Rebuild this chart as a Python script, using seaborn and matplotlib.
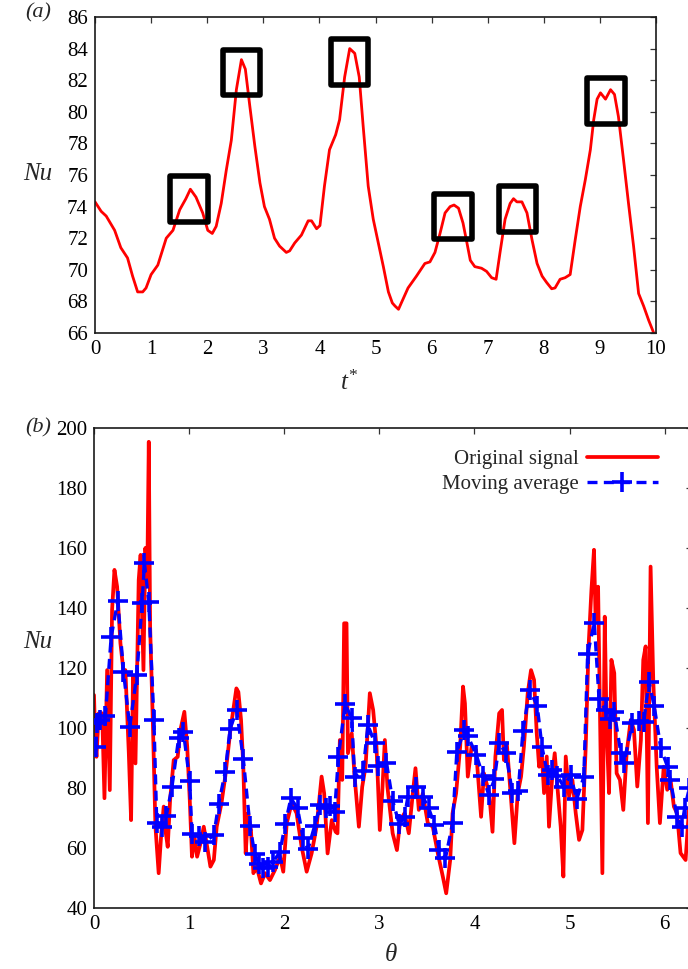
import numpy as np
import pandas as pd
import matplotlib
matplotlib.use("Agg")
import matplotlib.pyplot as plt
import seaborn as sns
from matplotlib.patches import Rectangle
from matplotlib.lines import Line2D

# ---------------- data: panel (a) ----------------
t_star = [0.00, 0.11, 0.20, 0.35, 0.46, 0.58, 0.67, 0.76, 0.85, 0.91, 1.00, 1.12, 1.27, 1.39,
          1.51, 1.62, 1.70, 1.80, 1.92, 2.01, 2.09, 2.16, 2.25, 2.34, 2.43, 2.52, 2.61, 2.68,
          2.76, 2.85, 2.94, 3.02, 3.11, 3.20, 3.29, 3.41, 3.47, 3.56, 3.68, 3.80, 3.86, 3.95,
          4.01, 4.09, 4.18, 4.29, 4.36, 4.45, 4.54, 4.63, 4.71, 4.78, 4.87, 4.96, 5.05, 5.14,
          5.23, 5.30, 5.35, 5.41, 5.46, 5.58, 5.73, 5.88, 5.97, 6.06, 6.15, 6.24, 6.33, 6.40,
          6.48, 6.56, 6.63, 6.69, 6.77, 6.89, 6.98, 7.07, 7.15, 7.22, 7.31, 7.40, 7.46, 7.52,
          7.61, 7.70, 7.79, 7.88, 7.97, 8.05, 8.14, 8.20, 8.29, 8.38, 8.47, 8.56, 8.65, 8.74,
          8.83, 8.89, 8.95, 9.01, 9.10, 9.19, 9.26, 9.33, 9.42, 9.51, 9.60, 9.69, 9.78, 9.87,
          9.96, 10.0]
nu_a = [74.3, 73.7, 73.4, 72.5, 71.4, 70.75, 69.6, 68.6, 68.6, 68.85, 69.7, 70.3, 72.0, 72.5,
        73.8, 74.5, 75.1, 74.6, 73.6, 72.5, 72.3, 72.75, 74.2, 76.3, 78.2, 81.4, 83.3, 82.7,
        80.35, 77.8, 75.5, 74.0, 73.2, 72.0, 71.5, 71.1, 71.2, 71.7, 72.2, 73.1, 73.1, 72.6,
        72.8, 75.3, 77.6, 78.55, 79.5, 82.2, 84.0, 83.7, 82.2, 79.1, 75.3, 73.2, 71.7, 70.2,
        68.6, 67.9, 67.7, 67.5, 67.9, 68.85, 69.6, 70.4, 70.5, 71.1, 72.3, 73.6, 74.0, 74.1,
        73.9, 72.96, 71.7, 70.6, 70.2, 70.1, 69.9, 69.5, 69.4, 71.1, 73.2, 74.2, 74.5, 74.3,
        74.3, 73.6, 71.9, 70.4, 69.6, 69.2, 68.8, 68.85, 69.4, 69.5, 69.7, 71.9, 74.0, 75.7,
        77.6, 79.5, 80.8, 81.2, 80.8, 81.4, 81.1, 79.7, 77.0, 74.2, 71.5, 68.5, 67.7, 66.8,
        66.0, 65.8]

# highlighted peaks (box centres)
box_t = [1.675, 2.615, 4.54, 6.38, 7.53, 9.105]
box_nu = [74.47, 82.49, 83.15, 73.38, 73.85, 80.67]

# ---------------- data: panel (b) ----------------
theta_sig = [0.000, 0.013, 0.026, 0.050, 0.086, 0.110, 0.138, 0.166, 0.190, 0.215, 0.243, 0.278,
             0.310, 0.330, 0.366, 0.390, 0.410, 0.436, 0.470, 0.490, 0.520, 0.540, 0.560, 0.576,
             0.590, 0.620, 0.646, 0.680, 0.705, 0.733, 0.755, 0.775, 0.800, 0.838, 0.880, 0.908,
             0.950, 0.980, 1.007, 1.030, 1.056, 1.084, 1.120, 1.154, 1.190, 1.224, 1.260, 1.290,
             1.340, 1.380, 1.434, 1.497, 1.518, 1.546, 1.570, 1.595, 1.620, 1.650, 1.676, 1.710,
             1.756, 1.798, 1.850, 1.903, 1.956, 1.990, 2.026, 2.078, 2.130, 2.183, 2.236, 2.288,
             2.340, 2.393, 2.420, 2.456, 2.500, 2.540, 2.560, 2.585, 2.610, 2.630, 2.655, 2.670,
             2.710, 2.740, 2.785, 2.820, 2.855, 2.900, 2.935, 2.970, 3.005, 3.030, 3.058, 3.085,
             3.140, 3.185, 3.220, 3.265, 3.310, 3.352, 3.380, 3.415, 3.457, 3.510, 3.562, 3.615,
             3.668, 3.703, 3.745, 3.770, 3.807, 3.850, 3.880, 3.900, 3.930, 3.970, 4.017, 4.070,
             4.100, 4.155, 4.190, 4.220, 4.260, 4.290, 4.310, 4.340, 4.375, 4.420, 4.455, 4.490,
             4.520, 4.560, 4.595, 4.627, 4.655, 4.680, 4.704, 4.732, 4.760, 4.784, 4.820, 4.844,
             4.872, 4.907, 4.935, 4.960, 4.995, 5.030, 5.065, 5.100, 5.135, 5.170, 5.200, 5.230,
             5.257, 5.274, 5.300, 5.320, 5.345, 5.370, 5.390, 5.415, 5.440, 5.470, 5.495, 5.530,
             5.565, 5.600, 5.643, 5.677, 5.712, 5.750, 5.775, 5.800, 5.824, 5.852, 5.880, 5.916,
             5.950, 5.990, 6.027, 6.062, 6.097, 6.130, 6.167, 6.220, 6.260, 6.300]
nu_sig = [111.0, 96.0, 90.4, 104.9, 104.9, 76.6, 119.3, 79.3, 139.3, 152.7, 147.1, 128.2,
          119.0, 119.3, 91.6, 69.3, 117.1, 88.2, 149.3, 157.7, 119.3, 160.0, 150.0, 195.4,
          133.8, 100.4, 67.1, 51.6, 63.8, 73.8, 65.0, 60.4, 76.0, 89.3, 90.4, 99.3,
          105.4, 93.8, 76.0, 57.1, 63.8, 57.1, 61.6, 67.1, 60.4, 53.8, 56.0, 67.1,
          74.9, 83.8, 99.3, 113.2, 112.0, 102.7, 87.1, 58.2, 71.6, 66.0, 51.6, 53.8,
          48.2, 51.6, 49.3, 52.7, 57.1, 52.1, 68.2, 74.9, 71.6, 60.4, 52.1, 58.2,
          67.1, 83.8, 78.2, 58.2, 69.3, 65.4, 64.9, 96.0, 82.7, 134.9, 134.9, 91.6,
          98.2, 83.8, 67.1, 80.4, 87.1, 111.6, 106.0, 93.8, 66.0, 78.2, 96.0, 80.4,
          64.9, 59.3, 69.3, 71.6, 64.9, 78.2, 86.6, 72.7, 78.2, 68.2, 67.1, 58.2,
          50.4, 44.9, 56.0, 71.6, 78.2, 93.8, 113.8, 108.2, 83.8, 93.8, 92.7, 70.4,
          84.9, 78.2, 65.4, 90.4, 104.9, 106.0, 89.3, 94.9, 80.4, 61.6, 78.2, 83.8,
          93.8, 111.6, 119.3, 116.0, 98.2, 87.1, 93.8, 78.3, 90.5, 67.1, 84.9, 91.6,
          80.5, 67.1, 50.5, 90.5, 77.2, 82.7, 71.6, 62.7, 66.0, 93.8, 127.2, 146.0,
          159.4, 136.0, 147.1, 104.9, 51.6, 137.1, 99.4, 78.3, 122.7, 118.3, 84.9, 82.7,
          72.7, 91.6, 102.7, 99.4, 80.5, 96.0, 122.7, 127.2, 68.3, 153.8, 116.0, 87.1,
          68.3, 87.1, 79.4, 82.7, 73.8, 71.6, 58.3, 56.0, 75.0, 85.0]

theta_avg = [0.016, 0.033, 0.068, 0.120, 0.180, 0.250, 0.310, 0.376, 0.450, 0.506, 0.530, 0.576,
             0.630, 0.660, 0.710, 0.760, 0.820, 0.890, 0.940, 1.006, 1.030, 1.100, 1.170, 1.260,
             1.310, 1.380, 1.430, 1.500, 1.570, 1.640, 1.690, 1.735, 1.780, 1.830, 1.885, 1.955,
             2.010, 2.070, 2.140, 2.200, 2.250, 2.320, 2.380, 2.435, 2.480, 2.530, 2.570, 2.640,
             2.710, 2.740, 2.830, 2.880, 2.950, 2.990, 3.075, 3.140, 3.210, 3.265, 3.300, 3.390,
             3.460, 3.520, 3.580, 3.630, 3.695, 3.770, 3.815, 3.895, 3.930, 4.020, 4.090, 4.150,
             4.210, 4.260, 4.330, 4.400, 4.460, 4.510, 4.580, 4.660, 4.710, 4.770, 4.820, 4.870,
             4.940, 5.010, 5.075, 5.150, 5.190, 5.260, 5.310, 5.380, 5.420, 5.470, 5.540, 5.570,
             5.660, 5.730, 5.780, 5.835, 5.890, 5.960, 6.030, 6.060, 6.130, 6.180, 6.210, 6.260]
nu_avg = [93.8, 101.6, 102.7, 104.0, 130.2, 142.4, 118.8, 100.4, 117.7, 141.6, 155.0, 142.1,
          102.7, 68.2, 67.0, 70.7, 80.4, 96.6, 98.8, 82.4, 64.7, 64.0, 62.1, 64.3,
          74.6, 85.4, 99.6, 106.0, 89.6, 67.4, 58.0, 54.7, 53.2, 53.8, 55.4, 58.7,
          67.9, 76.6, 73.2, 63.2, 59.6, 67.4, 74.3, 73.2, 74.0, 72.1, 90.4, 108.0,
          103.2, 83.8, 85.8, 101.0, 95.1, 87.3, 88.5, 75.8, 67.9, 70.4, 77.1, 80.4,
          76.9, 73.2, 67.7, 59.3, 56.6, 68.2, 92.1, 99.3, 97.4, 91.0, 84.0, 77.7,
          82.9, 94.9, 91.8, 78.2, 79.1, 99.0, 112.7, 107.4, 93.8, 84.3, 86.0, 84.1,
          80.4, 84.3, 76.2, 83.8, 124.7, 135.1, 109.7, 106.0, 103.0, 105.2, 91.6, 88.2,
          101.6, 102.4, 102.1, 115.4, 107.3, 93.2, 87.1, 82.7, 70.4, 67.1, 73.3, 80.0]

a_xticks = list(range(0, 11))
a_yticks = list(range(66, 87, 2))
b_xticks = list(range(0, 7))
b_yticks = list(range(40, 201, 20))

# ---------------- style ----------------
sns.set_theme(style="white")
plt.rcParams["font.family"] = ["Liberation Serif", "DejaVu Serif"]
plt.rcParams["mathtext.fontset"] = "custom"
plt.rcParams["mathtext.rm"] = "Liberation Serif"
plt.rcParams["mathtext.it"] = "Liberation Serif:italic"
plt.rcParams["font.size"] = 15

FS = 15
RED = "#ff0000"
BLUE = "#0000ff"
DASH = (0, (3.0, 1.9))
MS, MEW = 14, 2.6

fig = plt.figure(figsize=(6.88, 9.69), dpi=100)
W, H = 688.0, 969.0
ax1 = fig.add_axes([95 / W, (H - 333) / H, 561 / W, 316 / H])
ax2 = fig.add_axes([94 / W, (H - 908) / H, 597.6 / W, 480 / H])

for ax in (ax1, ax2):
    for s in ax.spines.values():
        s.set_linewidth(1.2)
        s.set_color("#1a1a1a")
    ax.tick_params(direction="in", top=True, right=True, length=4.5, width=0.9,
                   labelsize=FS, colors="#333333", labelcolor="black", pad=5)

# ---------------- panel (a) ----------------
dfa = pd.DataFrame({"t": t_star, "Nu": nu_a})
sns.lineplot(data=dfa, x="t", y="Nu", ax=ax1, color=RED, linewidth=2.0,
             sort=False, estimator=None)
bw, bh = 0.67, 2.88
for bt, bn in zip(box_t, box_nu):
    ax1.add_patch(Rectangle((bt - bw / 2, bn - bh / 2), bw, bh, fill=False,
                            edgecolor="black", linewidth=4.0, joinstyle="round", zorder=5))
ax1.set_xlim(0, 10)
ax1.set_ylim(66, 86)
ax1.set_xticks(a_xticks)
ax1.set_yticks(a_yticks)
ax1.set_xlabel(r"$t^{*}$", fontsize=FS + 3, va="center")
ax1.xaxis.set_label_coords(254 / 561, -0.158)
ax1.set_ylabel("Nu", fontsize=FS + 3, fontstyle="italic", rotation=0, va="center", ha="center")
ax1.yaxis.set_label_coords(-0.1016, 0.503)

# ---------------- panel (b) ----------------
dfs = pd.DataFrame({"theta": theta_sig, "Nu": nu_sig})
dfm = pd.DataFrame({"theta": theta_avg, "Nu": nu_avg})
sns.lineplot(data=dfs, x="theta", y="Nu", ax=ax2, color=RED, linewidth=2.7,
             sort=False, estimator=None, zorder=2)
sns.lineplot(data=dfm, x="theta", y="Nu", ax=ax2, color=BLUE, linewidth=2.4,
             linestyle=DASH, marker="+", markersize=MS, markeredgewidth=MEW,
             markeredgecolor=BLUE, markerfacecolor=BLUE,
             sort=False, estimator=None, zorder=3)
ax2.set_xlim(0, 2 * np.pi)
ax2.set_ylim(40, 200)
ax2.set_xticks(b_xticks)
ax2.set_yticks(b_yticks)
ax2.set_xlabel(r"$\theta$", fontsize=FS + 3, va="center")
ax2.xaxis.set_label_coords((391 - 94) / 597.6, -0.098)
ax2.set_ylabel("Nu", fontsize=FS + 3, fontstyle="italic", rotation=0, va="center", ha="center")
ax2.yaxis.set_label_coords(-0.0937, 0.554)

handles = [Line2D([], [], color=RED, linewidth=2.7),
           Line2D([], [], color=BLUE, linewidth=2.4, linestyle=DASH,
                  marker="+", markersize=MS, markeredgewidth=MEW,
                  markeredgecolor=BLUE)]
ax2.legend(handles, ["Original signal", "Moving average"], loc="upper right",
           bbox_to_anchor=(0.943, 0.955), frameon=False, markerfirst=False,
           fontsize=FS, handlelength=3.4, borderaxespad=0, borderpad=0,
           labelspacing=0.25, handletextpad=0.4)

fig.text(38 / W, 1 - 13 / H, "(a)", fontsize=FS + 1, fontstyle="italic", ha="center", va="center")
fig.text(38 / W, 1 - 428 / H, "(b)", fontsize=FS + 1, fontstyle="italic", ha="center", va="center")

fig.savefig("out.png", dpi=100)
